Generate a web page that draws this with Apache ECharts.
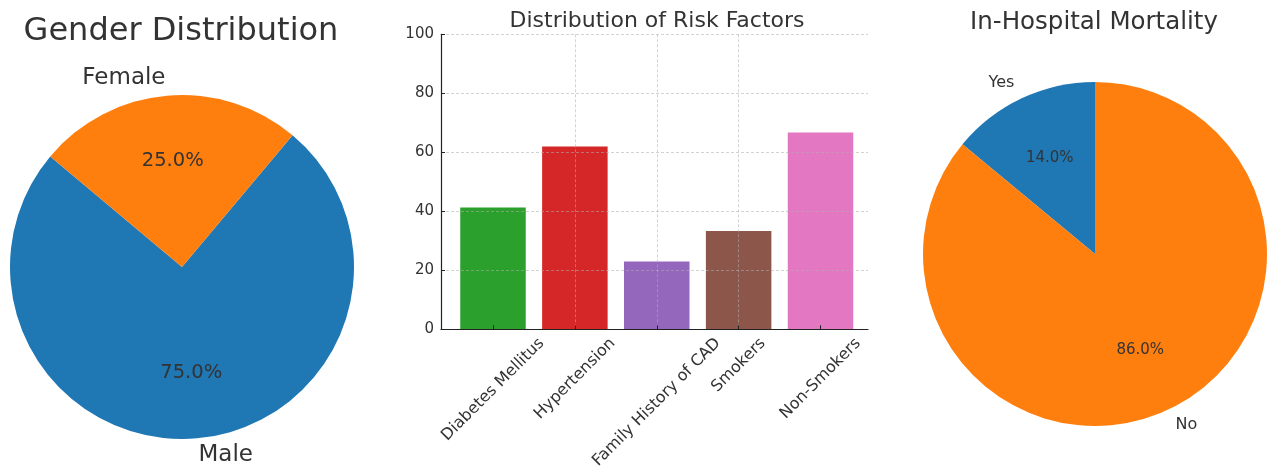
<!DOCTYPE html>
<html>
<head>
<meta charset="utf-8">
<script src="https://cdn.jsdelivr.net/npm/echarts@6/dist/echarts.min.js"></script>
<style>
html,body{margin:0;padding:0;background:#ffffff;}
#chart{width:1269px;height:468px;}
</style>
</head>
<body>
<div id="chart"></div>
<script>
// ---------------- data ----------------
const genderLabels = ['Male', 'Female'];
const genderValues = [75, 25];

const riskCategories = ['Diabetes Mellitus', 'Hypertension', 'Family History of CAD', 'Smokers', 'Non-Smokers'];
const riskValues = [41.3, 62.0, 23.0, 33.3, 66.7];
const riskTicks = [0, 20, 40, 60, 80, 100];

const mortalityLabels = ['Yes', 'No'];
const mortalityValues = [14, 86];

const titles = ['Gender Distribution', 'Distribution of Risk Factors', 'In-Hospital Mortality'];

// ---------------- styles ----------------
const FONT = '"DejaVu Sans", "Liberation Sans", sans-serif';
const TEXT = '#333333';
const pieColorsGender = ['#1f77b4', '#ff7f0e'];
const pieColorsMort = ['#1f77b4', '#ff7f0e'];
const barColors = ['#2ca02c', '#d62728', '#9467bd', '#8c564b', '#e377c2'];
const GRID_LINE = { color: 'rgba(175,175,175,0.55)', type: [3, 2], width: 1 };
const AXIS_COLOR = '#222222';
const Y_TICK_FONT = 15;
const X_TICK_FONT = 16;

// measure label widths so rotated labels can be centred on their tick like the original
const ctx = document.createElement('canvas').getContext('2d');
ctx.font = X_TICK_FONT + 'px "DejaVu Sans"';
const rich = {};
riskCategories.forEach((c, i) => {
  const L = ctx.measureText(c).width;
  rich['c' + i] = { padding: [L / 2, L / 2, 0, 0], fontSize: X_TICK_FONT, fontFamily: FONT, color: TEXT };
});
const catIndex = riskCategories.map((c, i) => i);

function pieSeries(center, R, startAngle, names, values, colors, nameSize, pctSize) {
  const outer = {
    type: 'pie', center: center, radius: [0, R], startAngle: startAngle, clockwise: false,
    silent: true, avoidLabelOverlap: false,
    data: names.map((n, i) => ({ name: n, value: values[i], itemStyle: { color: colors[i] } })),
    label: { show: true, position: 'outside', formatter: '{b}', fontSize: nameSize, fontFamily: FONT, color: TEXT, distanceToLabelLine: 0 },
    labelLine: { show: false, length: R * 0.1, length2: 0 },
    emphasis: { disabled: true }
  };
  const inner = {
    type: 'pie', center: center, radius: [R * 0.2, R], startAngle: startAngle, clockwise: false,
    silent: true, avoidLabelOverlap: false, z: 3,
    data: names.map((n, i) => ({ name: n, value: values[i], itemStyle: { color: 'rgba(0,0,0,0)' } })),
    label: { show: true, position: 'inside', formatter: p => p.percent.toFixed(1) + '%', fontSize: pctSize, fontFamily: FONT, color: TEXT },
    labelLine: { show: false },
    emphasis: { disabled: true }
  };
  return [outer, inner];
}

const option = {
  animation: false,
  backgroundColor: '#ffffff',
  title: [
    { text: titles[0], left: 176, top: 11, textAlign: 'center', textStyle: { fontSize: 32, fontWeight: 'normal', fontFamily: FONT, color: TEXT } },
    { text: titles[1], left: 652, top: 5, textAlign: 'center', textStyle: { fontSize: 22, fontWeight: 'normal', fontFamily: FONT, color: TEXT } },
    { text: titles[2], left: 1089, top: 5, textAlign: 'center', textStyle: { fontSize: 24.5, fontWeight: 'normal', fontFamily: FONT, color: TEXT } }
  ],
  grid: { left: 441, top: 34.3, width: 427, height: 295, containLabel: false, outerBoundsMode: 'none' },
  xAxis: {
    type: 'value', min: -0.635, max: 4.58, minInterval: 1, maxInterval: 1, z: 3,
    axisLine: { show: true, onZero: false, lineStyle: { color: AXIS_COLOR, width: 1.2 } },
    axisTick: { show: true, inside: true, length: 4, customValues: catIndex, lineStyle: { color: AXIS_COLOR, width: 1 } },
    splitLine: { show: true, showMinLine: false, showMaxLine: false, lineStyle: GRID_LINE },
    axisLabel: {
      show: true, rotate: 45, align: 'center', verticalAlign: 'middle', margin: 11.5,
      customValues: catIndex,
      fontSize: X_TICK_FONT, fontFamily: FONT, color: TEXT,
      formatter: v => {
        const i = Math.round(v);
        if (Math.abs(v - i) > 1e-6 || i < 0 || i >= riskCategories.length) return '';
        return '{c' + i + '|' + riskCategories[i] + '}';
      },
      rich: rich
    }
  },
  yAxis: {
    type: 'value', min: riskTicks[0], max: riskTicks[riskTicks.length - 1], interval: riskTicks[1] - riskTicks[0], z: 3,
    axisLine: { show: true, onZero: false, lineStyle: { color: AXIS_COLOR, width: 1.2 } },
    axisTick: { show: true, inside: true, length: 4, lineStyle: { color: AXIS_COLOR, width: 1 } },
    splitLine: { show: true, showMinLine: false, lineStyle: GRID_LINE },
    axisLabel: { fontSize: Y_TICK_FONT, fontFamily: FONT, color: TEXT, margin: 7 }
  },
  series: [
    {
      type: 'bar', barWidth: 65.5, silent: true, z: 2,
      data: riskValues.map((v, i) => ({ value: [i, v], itemStyle: { color: barColors[i] } }))
    },
    ...pieSeries([182, 267], 172, 140, genderLabels, genderValues, pieColorsGender, 23, 19.5),
    ...pieSeries([1095, 254], 172, 90, mortalityLabels, mortalityValues, pieColorsMort, 16, 15)
  ]
};

const chart = echarts.init(document.getElementById('chart'), null, { renderer: 'canvas' });
chart.setOption(option);
</script>
</body>
</html>
